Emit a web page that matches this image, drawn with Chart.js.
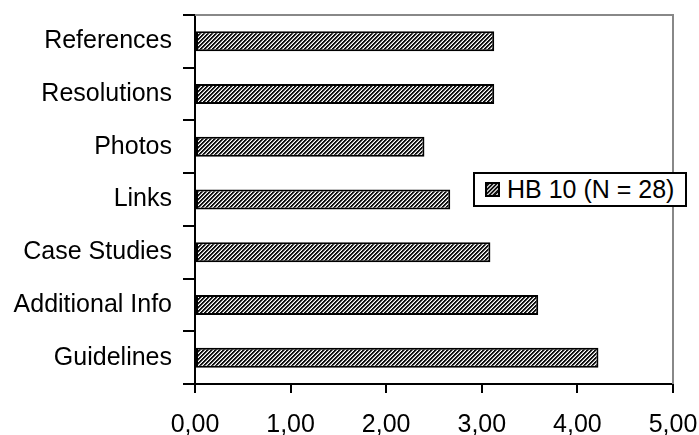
<!DOCTYPE html>
<html>
<head>
<meta charset="utf-8">
<script src="https://cdn.jsdelivr.net/npm/chart.js@4/dist/chart.umd.min.js"></script>
<style>
    html, body { margin: 0; padding: 0; background: #fff; }
    #wrap { position: relative; width: 699px; height: 435px; }
    #legend {
        position: absolute; left: 473px; top: 172px; width: 210px; height: 31px;
        border: 2px solid #000; background: #fff;
        font: 25px "Liberation Sans", Arial, sans-serif; color: #000;
        display: flex; align-items: center; box-sizing: content-box; white-space: nowrap;
    }
    #swatch {
        width: 11px; height: 11px; margin: 0 7px 0 10px; border: 2px solid #000; flex: none;
        background: repeating-linear-gradient(135deg, #111 0 1.5px, #bbb 1.5px 3px);
    }
</style>
</head>
<body>
<div id="wrap">
    <canvas id="chart" width="699" height="435"></canvas>
    <div id="legend"><span id="swatch"></span><span>HB 10 (N = 28)</span></div>
</div>
<script>
const categories = ['References', 'Resolutions', 'Photos', 'Links', 'Case Studies', 'Additional Info', 'Guidelines']
const scores = [3.13, 3.13, 2.40, 2.67, 3.09, 3.59, 4.22]
const seriesName = 'HB 10 (N = 28)'
const xTicks = [0, 1, 2, 3, 4, 5]

const FONT = { family: '"Liberation Sans", Arial, sans-serif', size: 25 }

// fine "////" hatch like the original fill
const hatch = () => {
    const c = document.createElement('canvas')
    c.width = 4
    c.height = 4
    const ctx = c.getContext('2d')
    const shades = ['#111', '#111', '#999', '#fff']
    for (let x = 0; x < 4; x++) {
        for (let y = 0; y < 4; y++) {
            ctx.fillStyle = shades[(x + y) % 4]
            ctx.fillRect(x, y, 1, 1)
        }
    }
    return ctx.createPattern(c, 'repeat')
}

// grey top and right edge of the plot area
const frame = {
    id: 'frame',
    afterDraw(chart) {
        const { ctx, chartArea: a } = chart
        ctx.save()
        ctx.strokeStyle = '#888'
        ctx.lineWidth = 2
        ctx.beginPath()
        ctx.moveTo(a.left, a.top)
        ctx.lineTo(a.right, a.top)
        ctx.lineTo(a.right, a.bottom)
        ctx.stroke()
        ctx.restore()
    }
}

new Chart(document.getElementById('chart'), {
    type: 'bar',
    data: {
        labels: categories,
        datasets: [{
            label: seriesName,
            data: scores,
            backgroundColor: hatch(),
            borderColor: '#000',
            borderWidth: 2,
            borderSkipped: false,
            categoryPercentage: 1,
            barPercentage: 0.38
        }]
    },
    options: {
        indexAxis: 'y',
        responsive: false,
        animation: false,
        layout: { padding: { top: 15, right: 26, left: 0, bottom: 0 } },
        plugins: { legend: { display: false }, tooltip: { enabled: false } },
        scales: {
            x: {
                min: 0,
                max: 5,
                afterBuildTicks: scale => { scale.ticks = xTicks.map(v => ({ value: v })) },
                afterFit: scale => {
                    scale.height = 51
                    scale.paddingLeft = 0
                    scale.paddingRight = 0
                },
                border: { color: '#000', width: 2 },
                grid: { drawOnChartArea: false, color: '#000', lineWidth: 2, tickLength: 9 },
                ticks: {
                    color: '#000',
                    font: FONT,
                    padding: 17,
                    maxRotation: 0,
                    callback: v => v.toFixed(2).replace('.', ',')
                }
            },
            y: {
                afterFit: scale => {
                    scale.width = 195
                    scale.paddingTop = 0
                    scale.paddingBottom = 0
                },
                border: { color: '#000', width: 2 },
                grid: { drawOnChartArea: false, color: '#000', lineWidth: 2, tickLength: 12, offset: true },
                ticks: { color: '#000', font: FONT, padding: 11 }
            }
        }
    },
    plugins: [frame]
})
</script>
</body>
</html>
